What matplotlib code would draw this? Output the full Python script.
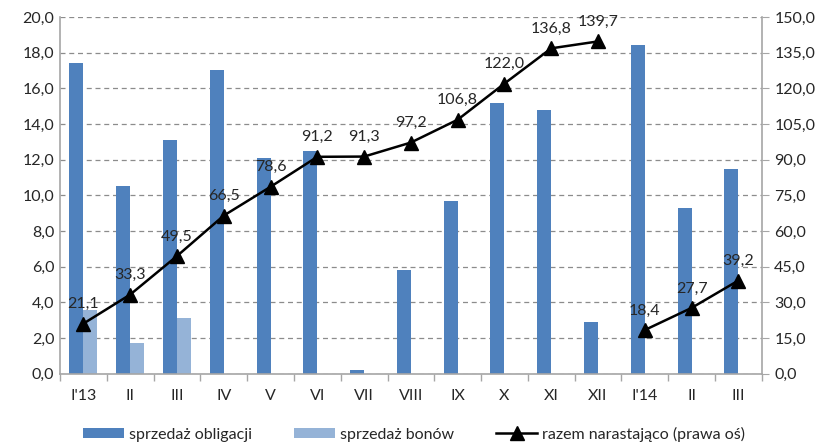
import matplotlib.pyplot as plt
import numpy as np
from matplotlib.ticker import FuncFormatter, MultipleLocator, FixedLocator

plt.rcParams['font.family'] = ['Lato', 'DejaVu Sans']

months = ["I'13", "II", "III", "IV", "V", "VI", "VII", "VIII", "IX", "X",
          "XI", "XII", "I'14", "II", "III"]
obligacje = [17.4, 10.5, 13.1, 17.0, 12.1, 12.5, 0.2, 5.8, 9.7, 15.2,
             14.8, 2.9, 18.4, 9.3, 11.5]
bony = [3.6, 1.7, 3.1, 0, 0, 0, 0, 0, 0, 0, 0, 0, 0, 0, 0]
narastajaco = [21.1, 33.3, 49.5, 66.5, 78.6, 91.2, 91.3, 97.2, 106.8, 122.0,
               136.8, 139.7, 18.4, 27.7, 39.2]

c_obl = "#4F81BD"
c_bon = "#95B3D7"
grey = "#A6A6A6"
txt = "#262626"

fig, ax = plt.subplots(figsize=(8.28, 4.45), dpi=100)
fig.subplots_adjust(left=0.0725, right=0.92, top=0.962, bottom=0.16)

x = np.arange(len(months))
w = 0.3
b1 = ax.bar(x - w / 2, obligacje, w, color=c_obl, label="sprzedaż obligacji", zorder=2)
b2 = ax.bar(x + w / 2, bony, w, color=c_bon, label="sprzedaż bonów", zorder=2)

ax.set_xlim(-0.5, len(months) - 0.5)
ax.set_ylim(0, 20)
ax.yaxis.set_major_locator(MultipleLocator(2))
ax.grid(axis="y", linestyle=(0, (4, 3)), color="#8C8C8C", linewidth=0.9, zorder=0)
ax.set_axisbelow(True)

comma = FuncFormatter(lambda v, p: f"{v:.1f}".replace(".", ","))
ax.yaxis.set_major_formatter(comma)

ax.set_xticks(x)
ax.set_xticklabels(months)
ax.xaxis.set_minor_locator(FixedLocator(np.arange(-0.5, len(months), 1)))
ax.tick_params(axis="x", which="major", length=0, pad=11, labelsize=11.5, labelcolor=txt)
ax.tick_params(axis="x", which="minor", length=5, color=grey, width=1)
ax.tick_params(axis="y", length=0, labelsize=11.5, labelcolor=txt, pad=4)

for s in ["top", "right"]:
    ax.spines[s].set_visible(False)
for s in ["left", "bottom"]:
    ax.spines[s].set_color(grey)
    ax.spines[s].set_linewidth(1.2)

ax2 = ax.twinx()
ax2.set_ylim(0, 150)
ax2.yaxis.set_major_locator(MultipleLocator(15))
ax2.yaxis.set_major_formatter(comma)
ax2.tick_params(axis="y", length=5, color=grey, labelsize=11.5, labelcolor=txt, pad=4)
for s in ["top", "left", "bottom"]:
    ax2.spines[s].set_visible(False)
ax2.spines["right"].set_color(grey)
ax2.spines["right"].set_linewidth(1.2)

# linia narastająco: osobno 2013 i 2014
segs = [(0, 12), (12, 15)]
line = None
for a, b in segs:
    line, = ax2.plot(x[a:b], narastajaco[a:b], color="black", linewidth=1.8,
                     marker="^", markersize=10, zorder=3,
                     label="razem narastająco (prawa oś)")
for xi, v in zip(x, narastajaco):
    ax2.annotate(f"{v:.1f}".replace(".", ","), (xi, v), xytext=(0, 9),
                 textcoords="offset points", ha="center", va="bottom",
                 fontsize=11.5, color=txt)

fig.legend(handles=[b1, b2, line], loc="lower center", ncol=3,
           bbox_to_anchor=(0.5, -0.025), frameon=False, fontsize=11.5,
           handlelength=2.6, handleheight=0.6, columnspacing=2.6,
           handletextpad=0.3, labelcolor=txt)

fig.savefig("out.png", dpi=100)
